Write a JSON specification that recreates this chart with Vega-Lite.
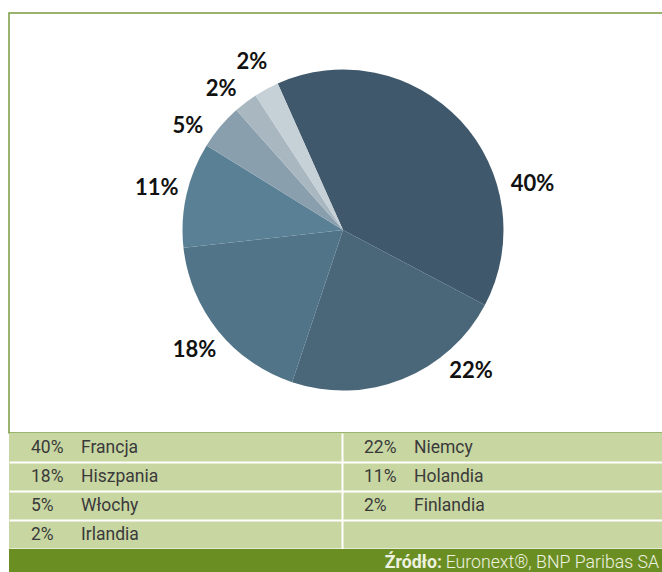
{
  "$schema": "https://vega.github.io/schema/vega-lite/v6.json",
  "padding": {"left": 8, "top": 12, "right": 0, "bottom": 0},
  "spacing": 0,
  "bounds": "flush",
  "config": {
    "view": {"stroke": null},
    "axis": {"domain": false, "ticks": false, "labels": false, "title": null}
  },
  "datasets": {
    "udzialy": [
      {"kraj": "Francja", "udzial": 39.4, "etykieta": "40%", "kolejnosc": 1},
      {"kraj": "Niemcy", "udzial": 22.4, "etykieta": "22%", "kolejnosc": 2},
      {"kraj": "Hiszpania", "udzial": 18.1, "etykieta": "18%", "kolejnosc": 3},
      {"kraj": "Holandia", "udzial": 10.6, "etykieta": "11%", "kolejnosc": 4},
      {"kraj": "Włochy", "udzial": 4.6, "etykieta": "5%", "kolejnosc": 5},
      {"kraj": "Finlandia", "udzial": 2.4, "etykieta": "2%", "kolejnosc": 6},
      {"kraj": "Irlandia", "udzial": 2.5, "etykieta": "2%", "kolejnosc": 7}
    ],
    "zrodlo": [
      {"czesc": "bold", "tekst": "Źródło:"},
      {"czesc": "reg", "tekst": "Euronext®, BNP Paribas SA"}
    ]
  },
  "vconcat": [
    {
      "width": 668,
      "height": 420,
      "view": {"stroke": "#7a9a3f", "strokeWidth": 1.5},
      "data": {"name": "udzialy"},
      "encoding": {
        "theta": {"field": "udzial", "type": "quantitative", "stack": true, "scale": {"range": [-0.4189, 5.8643]}},
        "order": {"field": "kolejnosc", "type": "quantitative"}
      },
      "layer": [
        {
          "mark": {"type": "arc", "outerRadius": 160.5, "yOffset": 7},
          "encoding": {
            "color": {
              "field": "kraj", "type": "nominal", "legend": null,
              "scale": {
                "domain": ["Francja", "Niemcy", "Hiszpania", "Holandia", "Włochy", "Finlandia", "Irlandia"],
                "range": ["#3f586b", "#4a6679", "#517488", "#5a8095", "#8a9fad", "#a9b7c1", "#c6d0d7"]
              }
            }
          }
        },
        {
          "mark": {"type": "text", "radius": 191, "yOffset": 7, "font": "Lato", "fontWeight": "bold", "fontSize": 22, "fill": "#111111", "align": "center", "baseline": "middle"},
          "encoding": {"text": {"condition": {"test": "indexof(['Francja','Niemcy','Włochy','Finlandia'], datum.kraj) < 0", "field": "etykieta"}, "value": ""}}
        },
        {
          "mark": {"type": "text", "radius": 191, "yOffset": 7, "dx": 50, "dy": 84, "font": "Lato", "fontWeight": "bold", "fontSize": 22, "fill": "#111111", "align": "center", "baseline": "middle"},
          "encoding": {"text": {"condition": {"test": "datum.kraj === 'Francja'", "field": "etykieta"}, "value": ""}}
        },
        {
          "mark": {"type": "text", "radius": 191, "yOffset": 7, "dx": 57, "dy": -36, "font": "Lato", "fontWeight": "bold", "fontSize": 22, "fill": "#111111", "align": "center", "baseline": "middle"},
          "encoding": {"text": {"condition": {"test": "datum.kraj === 'Niemcy'", "field": "etykieta"}, "value": ""}}
        },
        {
          "mark": {"type": "text", "radius": 191, "yOffset": 7, "dx": -9, "dy": 19, "font": "Lato", "fontWeight": "bold", "fontSize": 22, "fill": "#111111", "align": "center", "baseline": "middle"},
          "encoding": {"text": {"condition": {"test": "datum.kraj === 'Włochy'", "field": "etykieta"}, "value": ""}}
        },
        {
          "mark": {"type": "text", "radius": 191, "yOffset": 7, "dx": -6, "dy": 11, "font": "Lato", "fontWeight": "bold", "fontSize": 22, "fill": "#111111", "align": "center", "baseline": "middle"},
          "encoding": {"text": {"condition": {"test": "datum.kraj === 'Finlandia'", "field": "etykieta"}, "value": ""}}
        }
      ]
    },
    {
      "width": 666,
      "height": 116,
      "view": {"fill": "#c8d6a2"},
      "data": {"name": "udzialy"},
      "transform": [
        {"calculate": "(datum.kolejnosc - 1) % 2", "as": "kol"},
        {"calculate": "floor((datum.kolejnosc - 1) / 2)", "as": "wiersz"}
      ],
      "encoding": {
        "x": {
          "field": "kol", "type": "ordinal", "bandPosition": 0,
          "scale": {"type": "band", "domain": [0, 1], "paddingInner": 0, "paddingOuter": 0},
          "axis": {"grid": true, "gridColor": "#ffffff", "gridWidth": 2, "values": [1], "bandPosition": 0, "gridOpacity": 1}
        },
        "y": {
          "field": "wiersz", "type": "ordinal",
          "scale": {"type": "band", "domain": [0, 1, 2, 3], "paddingInner": 0, "paddingOuter": 0},
          "axis": {"grid": true, "gridColor": "#ffffff", "gridWidth": 2, "bandPosition": 1, "gridOpacity": 1}
        }
      },
      "layer": [
        {
          "mark": {"type": "text", "align": "left", "baseline": "middle", "dx": 22, "dy": 0, "font": "Roboto", "fontSize": 17.5, "fill": "#3a3a3a"},
          "encoding": {"text": {"field": "etykieta"}}
        },
        {
          "mark": {"type": "text", "align": "left", "baseline": "middle", "dx": 72, "font": "Roboto", "fontSize": 17.5, "fill": "#3a3a3a"},
          "encoding": {"text": {"field": "kraj"}}
        }
      ]
    },
    {
      "width": 666,
      "height": 24,
      "view": {"fill": "#6b8e23"},
      "data": {"name": "zrodlo"},
      "layer": [
        {
          "transform": [{"filter": "datum.czesc === 'reg'"}],
          "mark": {"type": "text", "align": "right", "baseline": "middle", "dx": 317, "dy": 2, "font": "Roboto", "fontWeight": 300, "fontSize": 17.7, "fill": "#eef2e0"},
          "encoding": {"text": {"field": "tekst"}}
        },
        {
          "transform": [{"filter": "datum.czesc === 'bold'"}],
          "mark": {"type": "text", "align": "right", "baseline": "middle", "dx": 100, "dy": 2, "font": "Roboto", "fontWeight": "bold", "fontSize": 17.7, "fill": "#eef2e0"},
          "encoding": {"text": {"field": "tekst"}}
        }
      ]
    }
  ]
}
